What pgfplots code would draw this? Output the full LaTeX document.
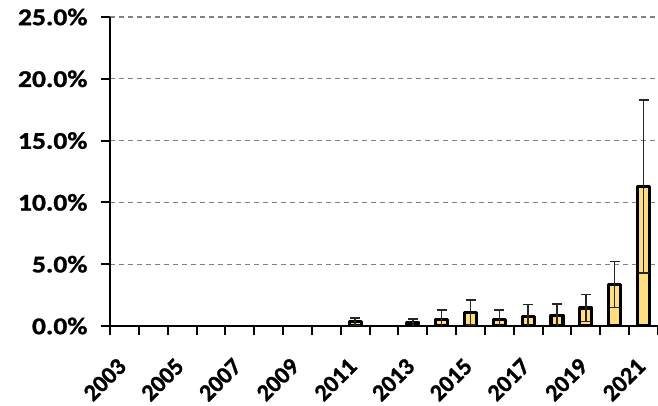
\documentclass[border=0pt]{standalone}
\usepackage{fontspec}
\setmainfont{Carlito}
\newfontfamily\yfont{Carlito}[UprightFont={* Bold}, FakeStretch=1.15, FakeBold=1.2]
\newfontfamily\xfont{Carlito}[UprightFont={* Bold}, FakeBold=1.2]
\usepackage{pgfplots}
\pgfplotsset{compat=1.18}
\definecolor{barfill}{RGB}{255,221,128}
\definecolor{gridgray}{RGB}{128,128,128}
\begin{document}
\begin{tikzpicture}
\begin{axis}[
  name=ax,
  scale only axis,
  width=548pt, height=309pt,
  xmin=-0.5, xmax=18.5,
  ymin=0, ymax=25,
  axis x line*=bottom,
  axis y line*=left,
  axis line style={line width=2pt, black},
  xtick={0,2,...,18},
  xticklabels={2003,2005,2007,2009,2011,2013,2015,2017,2019,2021},
  minor xtick={-0.5,0.5,...,18.5},
  major x tick style={draw=none},
  minor x tick style={line width=2pt, black},
  ytick={0,5,10,15,20,25},
  y tick style={line width=2pt, black},
  tick align=outside,
  major tick length=9pt,
  minor tick length=9pt,
  ymajorgrids,
  grid style={gridgray, line width=1.2pt, dash pattern=on 5pt off 4pt},
  /pgf/number format/assume math mode=true,
  yticklabel style={font=\yfont\fontsize{24}{26}\selectfont, xshift=-10pt},
  xticklabel style={font=\xfont\fontsize{24}{26}\selectfont, xshift=0pt, yshift=-25pt, rotate=45, anchor=east},
  yticklabel={\pgfmathprintnumber[fixed,fixed zerofill,precision=1]{\tick}\%},
  ybar,
  bar width=12pt,
]
\addplot[
  draw=black, fill=barfill, line width=3.2pt, line join=round,
  error bars/.cd, y dir=both, y explicit,
  error bar style={line width=1.5pt, black!85},
  error mark options={black!85, line width=1.5pt, mark size=5pt, rotate=90},
] coordinates {
  (8,0.35) +- (0,0.3)
  (10,0.25) +- (0,0.3)
  (11,0.55) +- (0,0.75)
  (12,1.1) +- (0,1.0)
  (13,0.55) +- (0,0.75)
  (14,0.78) +- (0,0.95)
  (15,0.87) +- (0,0.9)
  (16,1.45) +- (0,1.1)
  (17,3.35) +- (0,1.85)
  (18,11.3) +- (0,7.0)
};
\end{axis}
\pgfresetboundingbox
\path[use as bounding box] ([xshift=-110pt,yshift=-80pt]ax.south west) rectangle ([yshift=17pt]ax.north east);
\end{tikzpicture}
\end{document}
